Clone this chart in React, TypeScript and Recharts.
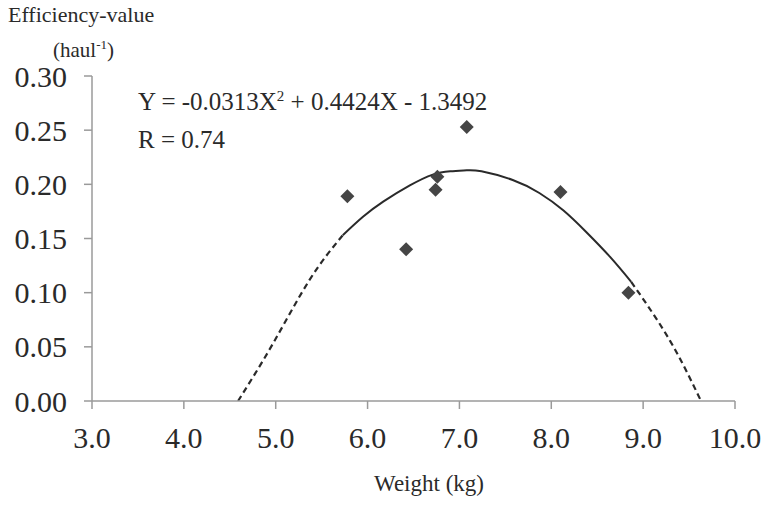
import {
  ComposedChart,
  Line,
  Scatter,
  XAxis,
  YAxis,
} from "recharts";

// observed points
const weightKg = [5.78, 6.42, 6.74, 6.76, 7.08, 8.1, 8.84];
const efficiency = [0.189, 0.14, 0.195, 0.207, 0.253, 0.193, 0.1];

// fitted curve (dashed = extrapolated)
const fitLeftX = [4.59, 4.97, 5.37, 5.73];
const fitLeftY = [0, 0.053, 0.112, 0.153];
const fitMidX = [5.73, 5.95, 6.17, 6.46, 6.71, 6.9, 7.08, 7.24, 7.58, 7.87, 8.13, 8.38, 8.64, 8.87];
const fitMidY = [0.153, 0.17, 0.184, 0.199, 0.209, 0.212, 0.213, 0.212, 0.204, 0.192, 0.176, 0.156, 0.133, 0.11];
const fitRightX = [8.87, 9.29, 9.63];
const fitRightY = [0.11, 0.056, 0];

const xTicks = [3, 4, 5, 6, 7, 8, 9, 10];
const yTicks = [0, 0.05, 0.1, 0.15, 0.2, 0.25, 0.3];

const zip = (xs: number[], ys: number[]) => xs.map((x, i) => ({ x, y: ys[i] }));

const points = zip(weightKg, efficiency);
const fitLeft = zip(fitLeftX, fitLeftY);
const fitMid = zip(fitMidX, fitMidY);
const fitRight = zip(fitRightX, fitRightY);

const FONT = "Liberation Serif, DejaVu Serif, serif";
const AXIS = "#9a9a9a";
const INK = "#2a2a2a";

function Diamond(props: any) {
  const { cx, cy } = props;
  const r = 7;
  return (
    <polygon
      points={`${cx},${cy - r} ${cx + r},${cy} ${cx},${cy + r} ${cx - r},${cy}`}
      fill="#454545"
    />
  );
}

export default function App() {
  return (
    <div
      style={{
        position: "absolute",
        left: 0,
        top: 0,
        width: 765,
        height: 526,
        background: "#fff",
        fontFamily: FONT,
        color: INK,
      }}
    >
      <ComposedChart
        width={765}
        height={526}
        margin={{ top: 76, right: 30, bottom: 0, left: 0 }}
        style={{ fontFamily: FONT }}
      >
        <XAxis
          type="number"
          dataKey="x"
          domain={[3, 10]}
          ticks={xTicks}
          allowDataOverflow
          tickFormatter={(v) => Number(v).toFixed(1)}
          height={125}
          stroke={AXIS}
          strokeWidth={1.5}
          tickSize={8}
          tickMargin={18}
          tick={{ fill: INK, fontSize: 30, fontFamily: FONT }}
        />
        <YAxis
          type="number"
          dataKey="y"
          domain={[0, 0.3]}
          ticks={yTicks}
          allowDataOverflow
          tickFormatter={(v) => Number(v).toFixed(2)}
          width={92}
          stroke={AXIS}
          strokeWidth={1.5}
          tickSize={8}
          tickMargin={17}
          tick={{ fill: INK, fontSize: 30, fontFamily: FONT }}
        />
        <Line
          data={fitLeft}
          dataKey="y"
          type="natural"
          stroke={INK}
          strokeWidth={2.2}
          strokeDasharray="6 4"
          dot={false}
          activeDot={false}
          isAnimationActive={false}
        />
        <Line
          data={fitMid}
          dataKey="y"
          type="natural"
          stroke={INK}
          strokeWidth={2}
          dot={false}
          activeDot={false}
          isAnimationActive={false}
        />
        <Line
          data={fitRight}
          dataKey="y"
          type="natural"
          stroke={INK}
          strokeWidth={2.2}
          strokeDasharray="6 4"
          dot={false}
          activeDot={false}
          isAnimationActive={false}
        />
        <Scatter
          data={points}
          dataKey="y"
          shape={<Diamond />}
          isAnimationActive={false}
        />
      </ComposedChart>

      <div style={{ position: "absolute", left: 8, top: 2, fontSize: 22, lineHeight: "26px" }}>
        Efficiency-value
      </div>
      <div style={{ position: "absolute", left: 53, top: 32, fontSize: 21, lineHeight: "26px" }}>
        (haul<sup style={{ fontSize: 13 }}>-1</sup>)
      </div>
      <div style={{ position: "absolute", left: 138, top: 81, fontSize: 25, lineHeight: "30px", whiteSpace: "nowrap" }}>
        Y = -0.0313X<sup style={{ fontSize: 15 }}>2</sup> + 0.4424X - 1.3492
      </div>
      <div style={{ position: "absolute", left: 138, top: 125, fontSize: 25, lineHeight: "30px" }}>
        R = 0.74
      </div>
      <div
        style={{
          position: "absolute",
          left: 329,
          width: 200,
          top: 470,
          textAlign: "center",
          fontSize: 23,
          lineHeight: "28px",
        }}
      >
        Weight (kg)
      </div>
    </div>
  );
}
